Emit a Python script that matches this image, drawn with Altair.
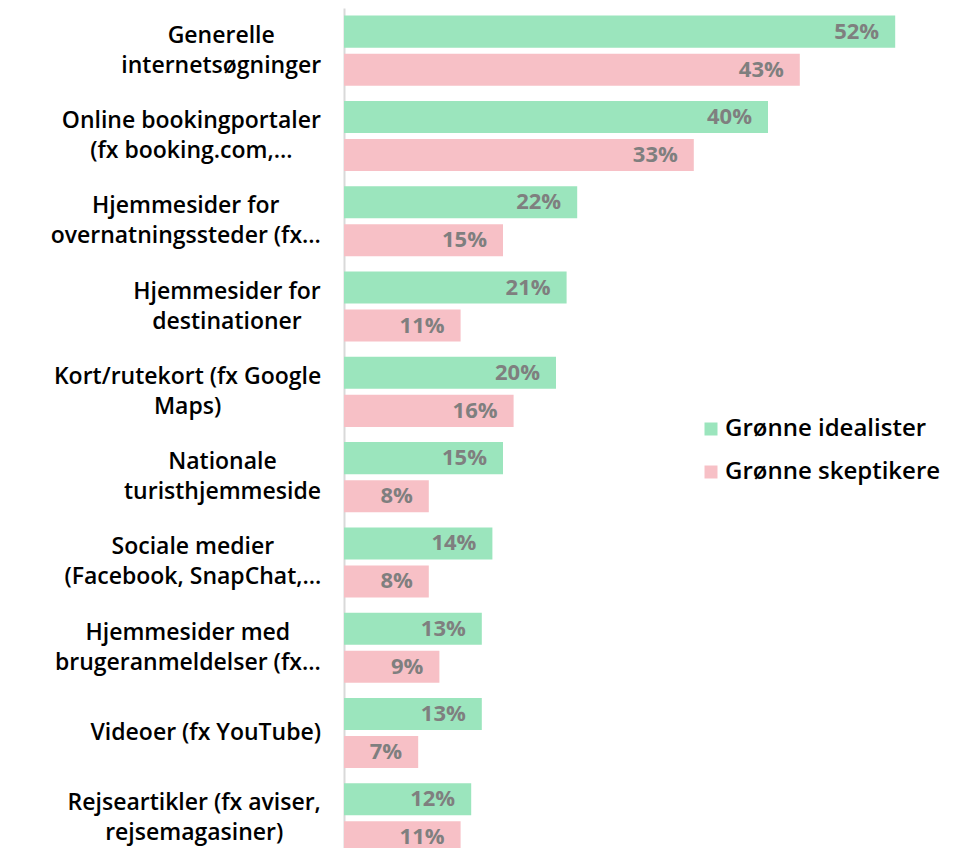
import altair as alt
import pandas as pd

# ---- data ----
categories = [
    "Generelle|internetsøgninger",
    "Online bookingportaler|(fx booking.com,…",
    "Hjemmesider for|overnatningssteder (fx…",
    "Hjemmesider for|destinationer",
    "Kort/rutekort (fx Google|Maps)",
    "Nationale|turisthjemmeside",
    "Sociale medier|(Facebook, SnapChat,…",
    "Hjemmesider med|brugeranmeldelser (fx…",
    "Videoer (fx YouTube)",
    "Rejseartikler (fx aviser,|rejsemagasiner)",
]
series = ["Grønne idealister", "Grønne skeptikere"]
idealister = [52, 40, 22, 21, 20, 15, 14, 13, 13, 12]
skeptikere = [43, 33, 15, 11, 16, 8, 8, 9, 7, 11]

# ---- style ----
GREEN = "#9BE5BD"
PINK = "#F7C0C6"
VALUE_GREY = "#7F7F7F"
FONT = "Open Sans"
LABEL_SIZE = 23
LINE_H = 30
X_MAX = 55
PLOT_W = 583
PLOT_H = 840
Y_RANGE = 853
LABEL_GAP = 23

# approximate advance widths (em) of the label font, used to centre the label lines
_w = {'a': .571, 'b': .627, 'c': .497, 'd': .627, 'e': .573, 'f': .366, 'g': .556, 'h': .637,
      'i': .283, 'j': .283, 'k': .578, 'l': .283, 'm': .961, 'n': .637, 'o': .616, 'p': .627,
      'q': .627, 'r': .432, 's': .489, 't': .383, 'u': .637, 'v': .545, 'w': .823, 'x': .563,
      'y': .545, 'z': .475, 'ø': .616, 'æ': .9, 'å': .571,
      'G': .711, 'O': .774, 'H': .748, 'K': .625, 'N': .777, 'S': .55, 'V': .592, 'R': .636,
      'M': .925, 'C': .632, 'F': .528, 'Y': .571, 'T': .567, 'B': .663, 'E': .541, 'D': .726,
      'L': .535, ' ': .26, '(': .324, ')': .324, ',': .268, '.': .27, '/': .386, '…': .81}


def text_width(s):
    return sum(_w.get(ch, .6) for ch in s) * LABEL_SIZE


px_per_unit = PLOT_W / X_MAX

long_rows = []
for c, a, b in zip(categories, idealister, skeptikere):
    long_rows.append({"cat": c, "series": series[0], "value": a})
    long_rows.append({"cat": c, "series": series[1], "value": b})
df = pd.DataFrame(long_rows)

lab_rows = []
for c in categories:
    lines = c.split("|")
    wmax = max(text_width(line) for line in lines)
    lab_rows.append({"cat": c, "nlines": len(lines),
                     "lx": -(LABEL_GAP + wmax / 2) / px_per_unit})
df_lab = pd.DataFrame(lab_rows)

y_enc = alt.Y(
    "cat:N",
    scale=alt.Scale(domain=categories, range=[0, Y_RANGE], paddingInner=0, paddingOuter=0),
    axis=alt.Axis(labels=False, ticks=False, domain=True, domainColor="#D9D9D9",
                  domainWidth=2, title=None, grid=False),
)
x_scale = alt.Scale(domain=[0, X_MAX], nice=False, zero=True)
x_enc = alt.X("value:Q", scale=x_scale, axis=None)
yoff = alt.YOffset("series:N", sort=series,
                   scale=alt.Scale(domain=series, paddingInner=0.158, paddingOuter=0.2))

bars = alt.Chart(df).mark_bar().encode(
    y=y_enc,
    x=x_enc,
    yOffset=yoff,
    color=alt.Color(
        "series:N",
        scale=alt.Scale(domain=series, range=[GREEN, PINK]),
        legend=alt.Legend(
            title=None, orient="none", legendX=355, legendY=409,
            symbolType="square", symbolSize=169, symbolStrokeWidth=0,
            labelFont=FONT, labelFontSize=24, labelFontWeight=600, labelColor="#000000",
            labelOffset=2, rowPadding=19, labelLimit=400,
        ),
    ),
)

values = alt.Chart(df).transform_calculate(
    txt="format(datum.value, 'd') + '%'"
).mark_text(
    align="right", baseline="middle", dx=-16, font=FONT, fontSize=22,
    fontWeight=700, color=VALUE_GREY,
).encode(
    y=y_enc,
    x=x_enc,
    yOffset=yoff,
    text="txt:N",
)


def label_layer(n, dy):
    return alt.Chart(df_lab).transform_filter(
        f"datum.nlines == {n}"
    ).mark_text(
        align="center", baseline="middle", lineBreak="|", lineHeight=LINE_H, dy=dy,
        font=FONT, fontSize=LABEL_SIZE, fontWeight=600, color="#000000",
    ).encode(
        y=y_enc,
        x=alt.X("lx:Q", scale=x_scale, axis=None),
        text="cat:N",
    )


labels_two = label_layer(2, -LINE_H / 2)
labels_one = label_layer(1, 0)

chart = alt.layer(bars, values, labels_two, labels_one).properties(
    width=PLOT_W,
    height=PLOT_H,
    autosize=alt.AutoSizeParams(type="none"),
    padding={"left": 336, "top": 0, "right": 40, "bottom": 0},
).configure_view(stroke=None)

chart.save("out.html", embed_options={"renderer": "svg", "actions": False})
